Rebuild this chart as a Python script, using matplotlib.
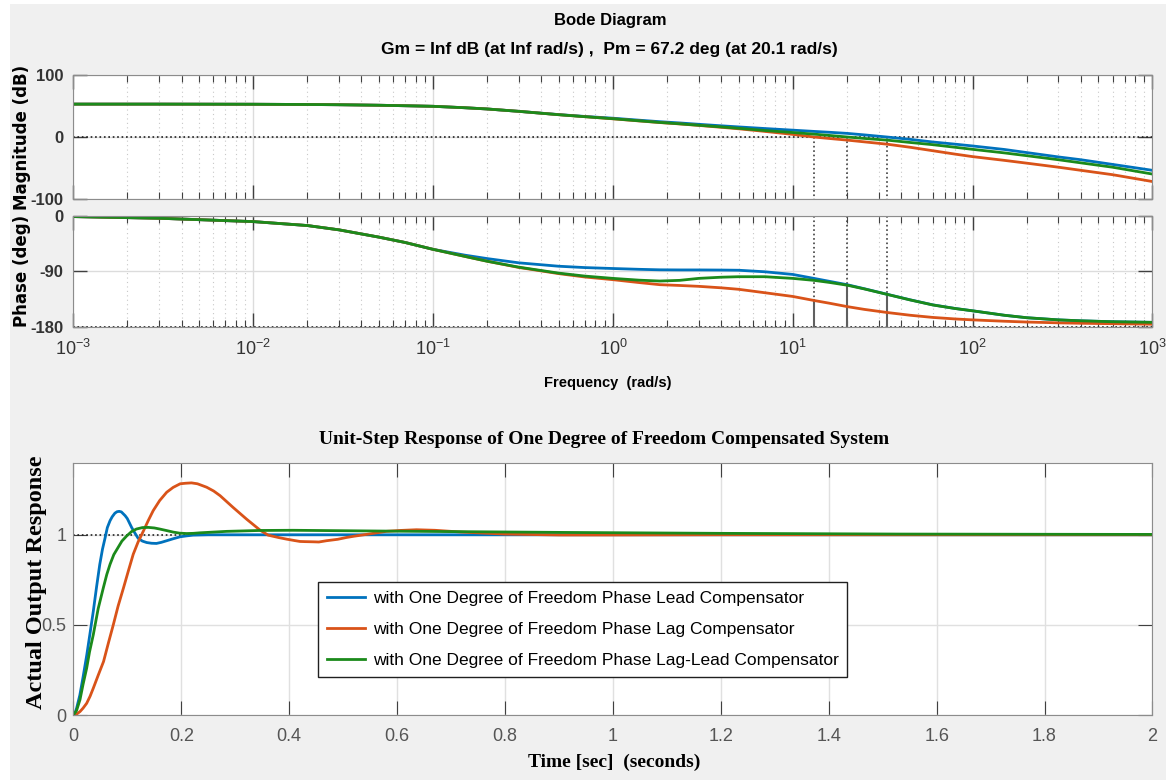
import matplotlib.pyplot as plt
import numpy as np
from matplotlib.patches import Rectangle

# ---- dati letti dal diagramma di Bode ----
# frequenze (rad/s) in cui ho letto modulo e fase
freq = [0.001, 0.003, 0.01, 0.02, 0.03, 0.05, 0.07, 0.1, 0.15, 0.2, 0.3, 0.5, 0.7,
        1, 1.4, 1.82, 2.35, 3, 4, 5, 7, 10, 13.1, 16, 20.1, 25, 33.4, 45, 60, 80,
        100, 150, 200, 300, 400, 600, 1000]

# modulo (dB)
mag_lead = [52.8, 52.8, 52.6, 52.2, 51.8, 51.0, 50.2, 49.3, 47.0, 45.0, 41.2, 36.0, 33.0,
            30.2, 27.0, 24.6, 22.6, 20.4, 18.0, 16.2, 13.6, 11.0, 9.0, 7.6, 5.8, 3.4, 0.0,
            -3.8, -8.0, -11.5, -14.4, -20.0, -25.0, -32.0, -36.5, -44.0, -53.5]
mag_lag = [52.8, 52.8, 52.6, 52.2, 51.8, 51.0, 50.2, 49.3, 47.0, 45.0, 41.2, 35.8, 32.6,
           29.2, 25.8, 23.2, 21.0, 18.6, 15.6, 13.2, 9.0, 4.2, 0.0, -2.4, -5.0, -7.8, -11.5,
           -16.5, -22.0, -27.5, -31.5, -37.5, -42.0, -48.5, -53.5, -60.5, -71.5]
mag_ll = [52.8, 52.8, 52.6, 52.2, 51.8, 51.0, 50.2, 49.3, 47.0, 45.0, 41.2, 35.8, 32.6,
          29.4, 26.0, 23.4, 21.2, 18.9, 16.2, 14.0, 10.4, 7.2, 4.6, 2.5, 0.0, -2.3, -5.0,
          -8.8, -12.3, -16.5, -19.8, -25.5, -30.0, -36.5, -41.5, -48.5, -59.5]

# fase (deg)
ph_lead = [-1.5, -4.2, -9.6, -16.0, -23.0, -34.8, -43.5, -54.6, -64.0, -69.6, -76.5, -82.0,
           -84.2, -85.7, -87.0, -87.8, -88.0, -88.0, -88.2, -88.5, -91.0, -95.3, -101.7,
           -106.5, -112.0, -118.5, -127.4, -136.5, -144.6, -150.5, -154.3, -161.5, -165.5,
           -169.0, -170.5, -172.0, -173.0]
ph_lag = [-1.5, -4.2, -9.6, -16.0, -23.0, -34.8, -43.5, -54.6, -66.0, -73.9, -84.0, -94.0,
          -99.5, -103.8, -108.5, -111.9, -113.2, -114.6, -117.0, -119.4, -125.0, -131.0,
          -137.5, -142.0, -147.5, -152.0, -157.0, -161.5, -165.0, -167.5, -169.0, -171.2,
          -172.5, -173.8, -174.5, -175.2, -176.0]
ph_ll = [-1.5, -4.2, -9.6, -16.0, -23.0, -34.8, -43.5, -54.6, -66.0, -73.9, -83.5, -93.2,
         -98.0, -101.7, -104.6, -106.0, -104.9, -101.7, -99.8, -99.0, -99.0, -101.7, -104.9,
         -108.3, -112.8, -118.8, -127.6, -136.7, -144.8, -150.6, -154.3, -161.5, -165.5,
         -169.0, -170.5, -172.0, -173.0]

# margini di fase segnati (frequenza di attraversamento, fase in quel punto)
pm_freq = [13.1, 20.1, 33.4]
pm_phase = [-137.5, -112.8, -127.4]

# ---- risposta al gradino ----
t_lead = [0, 0.003, 0.006, 0.012, 0.018, 0.025, 0.031, 0.037, 0.043, 0.049, 0.054, 0.059,
          0.063, 0.068, 0.072, 0.077, 0.081, 0.085, 0.089, 0.096, 0.1, 0.108, 0.114, 0.12,
          0.128, 0.136, 0.145, 0.154, 0.163, 0.173, 0.185, 0.198, 0.21, 0.222, 0.25, 0.3, 2.0]
y_lead = [0, 0.01, 0.037, 0.11, 0.21, 0.335, 0.455, 0.576, 0.71, 0.836, 0.92, 0.985,
          1.04, 1.078, 1.10, 1.12, 1.128, 1.13, 1.127, 1.106, 1.09, 1.041, 1.01, 0.981,
          0.965, 0.957, 0.953, 0.952, 0.958, 0.967, 0.978, 0.989, 0.994, 0.998, 1.0, 1.0, 1.0]

t_lag = [0, 0.006, 0.0123, 0.018, 0.0247, 0.031, 0.037, 0.046, 0.056, 0.065, 0.074, 0.083,
         0.093, 0.102, 0.111, 0.12, 0.130, 0.139, 0.148, 0.16, 0.173, 0.185, 0.198, 0.208,
         0.219, 0.23, 0.247, 0.26, 0.272, 0.296, 0.321, 0.346, 0.361, 0.38, 0.395, 0.41,
         0.420, 0.43, 0.445, 0.455, 0.469, 0.49, 0.506, 0.52, 0.543, 0.56, 0.58, 0.605,
         0.636, 0.67, 0.72, 0.8, 0.9, 1.0, 1.2, 2.0]
y_lag = [0, 0.005, 0.019, 0.038, 0.065, 0.104, 0.149, 0.22, 0.297, 0.40, 0.50, 0.605,
         0.706, 0.80, 0.892, 0.96, 1.022, 1.08, 1.134, 1.19, 1.236, 1.263, 1.283, 1.286,
         1.288, 1.283, 1.264, 1.243, 1.217, 1.152, 1.087, 1.026, 0.998, 0.985, 0.976, 0.968,
         0.963, 0.962, 0.961, 0.960, 0.967, 0.975, 0.985, 0.992, 1.002, 1.01, 1.019, 1.024,
         1.028, 1.025, 1.015, 1.004, 0.999, 0.999, 1.0, 1.0]

t_ll = [0, 0.006, 0.0123, 0.018, 0.0247, 0.03, 0.037, 0.046, 0.0556, 0.062, 0.068, 0.075,
        0.083, 0.09, 0.099, 0.108, 0.117, 0.128, 0.139, 0.15, 0.16, 0.172, 0.185, 0.197,
        0.21, 0.222, 0.235, 0.284, 0.346, 0.407, 0.6, 0.914, 1.2, 1.53, 2.0]
y_ll = [0, 0.025, 0.085, 0.17, 0.26, 0.35, 0.446, 0.59, 0.706, 0.78, 0.836, 0.89,
        0.93, 0.965, 0.994, 1.018, 1.032, 1.04, 1.041, 1.038, 1.032, 1.024, 1.015, 1.009,
        1.007, 1.008, 1.011, 1.019, 1.024, 1.025, 1.02, 1.013, 1.008, 1.004, 1.002]

labels = ['with One Degree of Freedom Phase Lead Compensator',
          'with One Degree of Freedom Phase Lag Compensator',
          'with One Degree of Freedom Phase Lag-Lead Compensator']
colori = ['#0072BD', '#D95319', '#1B8A1B']

decadi = [1e-3, 1e-2, 1e-1, 1e0, 1e1, 1e2, 1e3]
decadi_lab = ['10$^{-3}$', '10$^{-2}$', '10$^{-1}$', '10$^{0}$', '10$^{1}$', '10$^{2}$', '10$^{3}$']

# ---- stile ----
sans = 'Liberation Sans'
plt.rcParams['mathtext.fontset'] = 'custom'
plt.rcParams['mathtext.rm'] = sans
plt.rcParams['mathtext.it'] = sans + ':italic'
plt.rcParams['mathtext.bf'] = sans + ':bold'

fig = plt.figure(figsize=(11.66, 7.8), dpi=100, facecolor='#F0F0F0')
# bordino bianco in alto e a sinistra, come nello screenshot
fig.patches.append(Rectangle((0, 0), 0.0086, 1, transform=fig.transFigure,
                             facecolor='white', edgecolor='none'))
fig.patches.append(Rectangle((0, 0.995), 1, 0.005, transform=fig.transFigure,
                             facecolor='white', edgecolor='none'))

ax_mag = fig.add_axes([0.0629, 0.7445, 0.9255, 0.1597])
ax_ph = fig.add_axes([0.0629, 0.5812, 0.9255, 0.1423])
ax_st = fig.add_axes([0.0629, 0.0833, 0.9255, 0.3235])

minori = [m * d for d in decadi[:-1] for m in range(2, 10)]

for ax in (ax_mag, ax_ph):
    ax.set_xscale('log')
    ax.set_xlim(1e-3, 1e3)
    ax.set_xticks(decadi)
    ax.set_xticks(minori, minor=True)
    ax.grid(True, which='major', color='#DCDCDC', lw=1, ls='-')
    ax.grid(True, which='minor', axis='x', color='#C8C8C8', lw=0.8, ls=(0, (1, 3)))
    ax.tick_params(which='both', direction='in', top=True, right=True, color='#404040')
    ax.tick_params(which='major', length=10, width=1)
    ax.tick_params(which='minor', length=5, width=0.8)
    for s in ax.spines.values():
        s.set_color('#8C8C8C')
    ax.set_axisbelow(True)

# modulo
ax_mag.axhline(0, color='#202020', ls=':', lw=1.2)
for f in pm_freq:
    ax_mag.plot([f, f], [0, -100], color='#404040', ls=':', lw=1.2)
ax_mag.plot(freq, mag_lead, color=colori[0], lw=2)
ax_mag.plot(freq, mag_lag, color=colori[1], lw=2)
ax_mag.plot(freq, mag_ll, color=colori[2], lw=2)
ax_mag.set_ylim(-100, 100)
ax_mag.set_yticks([-100, 0, 100])
ax_mag.set_yticklabels(['-100', '0', '100'])
ax_mag.tick_params(axis='x', labelbottom=False)

# fase
ax_ph.axhline(-180, color='#202020', ls=':', lw=1.2)
for f, p in zip(pm_freq, pm_phase):
    ax_ph.plot([f, f], [0, p], color='#404040', ls=':', lw=1.2)
    ax_ph.plot([f, f], [p, -180], color='#606060', ls='-', lw=1.5)
ax_ph.plot(freq, ph_lead, color=colori[0], lw=2)
ax_ph.plot(freq, ph_lag, color=colori[1], lw=2)
ax_ph.plot(freq, ph_ll, color=colori[2], lw=2)
ax_ph.set_ylim(-180, 0)
ax_ph.set_yticks([-180, -90, 0])
ax_ph.set_yticklabels(['-180', '-90', '0'])
ax_ph.set_xticklabels(decadi_lab)
ax_ph.tick_params(axis='x', which='major', pad=9, labelsize=13, labelcolor='#333333')

for ax in (ax_mag, ax_ph):
    ax.tick_params(axis='y', pad=7, labelsize=12, labelcolor='#333333')
    for lab in ax.get_yticklabels():
        lab.set_fontfamily(sans)
        lab.set_fontweight('bold')
for lab in ax_ph.get_xticklabels():
    lab.set_fontfamily(sans)

fig.text(0.523, 0.974, 'Bode Diagram', ha='center', va='center',
         family=sans, weight='bold', fontsize=12)
fig.text(0.523, 0.936, 'Gm = Inf dB (at Inf rad/s) ,  Pm = 67.2 deg (at 20.1 rad/s)',
         ha='center', va='center', family=sans, weight='bold', fontsize=12.5)
fig.text(0.521, 0.509, 'Frequency  (rad/s)', ha='center', va='center',
         family=sans, weight='bold', fontsize=10.5)
fig.text(0.019, 0.653, 'Phase (deg)', rotation=90, ha='center', va='center',
         family='DejaVu Sans', weight='bold', fontsize=12)
fig.text(0.019, 0.824, 'Magnitude (dB)', rotation=90, ha='center', va='center',
         family='DejaVu Sans', weight='bold', fontsize=12)

# ---- risposta al gradino ----
ax_st.axhline(1, color='#202020', ls=':', lw=1.2)
ax_st.plot(t_lead, y_lead, color=colori[0], lw=2, label=labels[0])
ax_st.plot(t_lag, y_lag, color=colori[1], lw=2, label=labels[1])
ax_st.plot(t_ll, y_ll, color=colori[2], lw=2, label=labels[2])
ax_st.set_xlim(0, 2)
ax_st.set_ylim(0, 1.4)
ax_st.set_xticks(np.arange(0, 2.01, 0.2))
ax_st.set_xticklabels(['0', '0.2', '0.4', '0.6', '0.8', '1', '1.2', '1.4', '1.6', '1.8', '2'])
ax_st.set_yticks([0, 0.5, 1])
ax_st.set_yticklabels(['0', '0.5', '1'])
ax_st.grid(True, color='#E0E0E0', lw=1)
ax_st.set_axisbelow(True)
ax_st.tick_params(direction='in', top=True, right=True, length=10, color='#404040',
                  labelsize=13, labelcolor='#555555')
ax_st.tick_params(axis='x', pad=9)
ax_st.tick_params(axis='y', pad=5)
for lab in ax_st.get_xticklabels() + ax_st.get_yticklabels():
    lab.set_fontfamily(sans)
for s in ax_st.spines.values():
    s.set_color('#8C8C8C')

leg = ax_st.legend(loc='upper left', bbox_to_anchor=(0.2266, 0.527), prop={'family': sans, 'size': 12.5},
                   frameon=True, fancybox=False, framealpha=1, edgecolor='#202020',
                   handlelength=2.2, handletextpad=0.45, labelspacing=0.92, borderpad=0.5,
                   borderaxespad=0)
leg.get_frame().set_linewidth(1)

fig.text(0.518, 0.436, 'Unit-Step Response of One Degree of Freedom Compensated System',
         ha='center', va='center', family='Liberation Serif', weight='bold', fontsize=14)
fig.text(0.527, 0.023, 'Time [sec]  (seconds)', ha='center', va='center',
         family='Liberation Serif', weight='bold', fontsize=14)
fig.text(0.031, 0.253, 'Actual Output Response', rotation=90, ha='center', va='center',
         family='Liberation Serif', weight='bold', fontsize=17.5)

fig.savefig('out.png', dpi=100, facecolor=fig.get_facecolor())
